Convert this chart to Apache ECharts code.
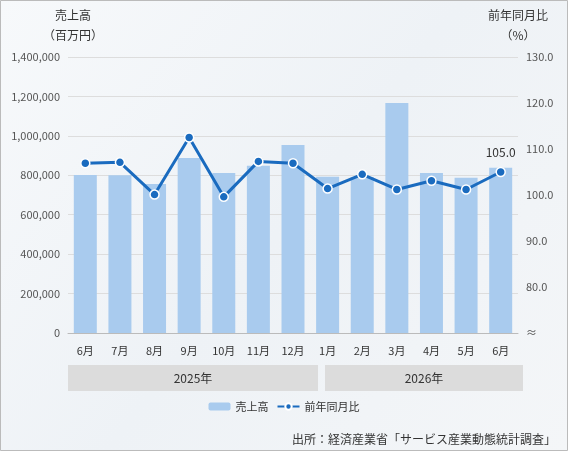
<!DOCTYPE html>
<html><head><meta charset="utf-8">
<script src="https://cdn.jsdelivr.net/npm/echarts@6/dist/echarts.min.js"></script>
<style>html,body{margin:0;padding:0}#c{width:568px;height:451px}</style>
</head><body><div id="c"></div>
<script>
const categories=['6月','7月','8月','9月','10月','11月','12月','1月','2月','3月','4月','5月','6月'];
const sales=[802000,800000,756000,888000,812000,848000,954000,792000,790000,1167000,812000,787000,838000];
const yoy=[106.9,107.1,100.1,112.5,99.6,107.3,106.9,101.4,104.5,101.2,103.1,101.2,105.0];
const years=['2025年','2026年'];
const ff='"Noto Sans CJK JP","Noto Sans",sans-serif';
const chart=echarts.init(document.getElementById('c'));
chart.setOption({
  backgroundColor:{type:'linear',x:0,y:0,x2:1,y2:1,colorStops:[{offset:0,color:'#f7f9fb'},{offset:0.5,color:'#eef2f6'},{offset:1,color:'#f4f6f8'}]},
  textStyle:{fontFamily:ff},
  grid:{left:68,right:50,top:57,bottom:118},
  legend:{bottom:34,left:'center',itemWidth:22,itemHeight:8,textStyle:{fontSize:11,color:'#333'},data:['売上高','前年同月比']},
  xAxis:{type:'category',data:categories,axisTick:{show:false},axisLine:{lineStyle:{color:'#bbb'}},axisLabel:{color:'#333',fontSize:11,margin:12}},
  yAxis:[
    {type:'value',min:0,max:1400000,interval:200000,name:'売上高\n（百万円）',nameGap:12,nameTextStyle:{color:'#333',fontSize:12,lineHeight:20,align:'center',padding:[0,0,0,10]},
     axisLabel:{color:'#555',fontSize:11,formatter:v=>v.toLocaleString('en-US')},splitLine:{lineStyle:{color:'#ddd'}}},
    {type:'value',min:70,max:130,interval:10,name:'前年同月比\n（%）',nameGap:12,nameTextStyle:{color:'#333',fontSize:12,lineHeight:20,align:'center'},
     axisLabel:{color:'#555',fontSize:11,formatter:v=>v===70?'≈':v.toFixed(1)},splitLine:{show:false}}
  ],
  series:[
    {name:'売上高',type:'bar',data:sales,barWidth:23,itemStyle:{color:'#a9cbee'}},
    {name:'前年同月比',type:'line',yAxisIndex:1,data:yoy,symbol:'circle',symbolSize:9,
     lineStyle:{color:'#1a6bbf',width:3},itemStyle:{color:'#1a6bbf',borderColor:'#fff',borderWidth:1.5},
     label:{show:true,formatter:p=>p.dataIndex===12?p.value.toFixed(1):'',position:'top',color:'#333',fontSize:12,distance:8}}
  ],
  graphic:[
    {type:'rect',shape:{x:68,y:365,width:250,height:26},style:{fill:'#dcdcdc'}},
    {type:'rect',shape:{x:325,y:365,width:198,height:26},style:{fill:'#dcdcdc'}},
    {type:'text',x:193,y:378,style:{text:years[0],fill:'#333',fontSize:12,align:'center',verticalAlign:'middle',fontFamily:ff}},
    {type:'text',x:424,y:378,style:{text:years[1],fill:'#333',fontSize:12,align:'center',verticalAlign:'middle',fontFamily:ff}},
    {type:'text',right:12,bottom:6,style:{text:'出所：経済産業省「サービス産業動態統計調査」',fill:'#333',fontSize:12,fontFamily:ff}},
    {type:'rect',shape:{x:0.5,y:0.5,width:567,height:450},style:{fill:'none',stroke:'#bbb'}}
  ]
});
</script></body></html>
